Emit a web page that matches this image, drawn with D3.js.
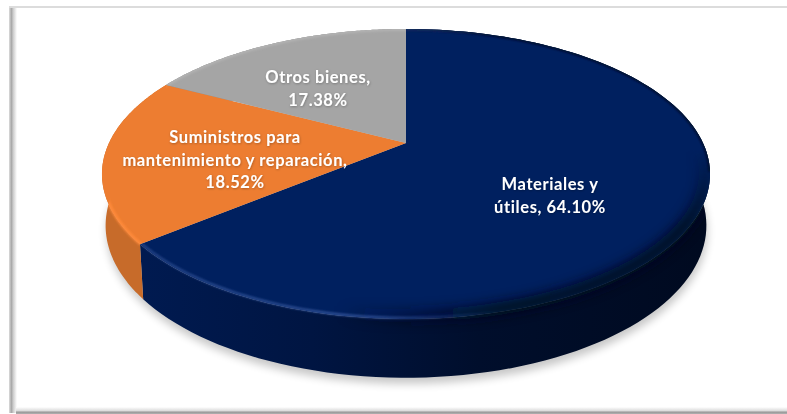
<!DOCTYPE html>
<html><head><meta charset="utf-8">
<script src="https://cdn.jsdelivr.net/npm/d3@7"></script>
<style>html,body{margin:0;padding:0;background:#fff}svg{display:block}text{font-family:Lato,"Open Sans",sans-serif;font-weight:700;font-size:16.5px;letter-spacing:.6px;fill:#fff;text-anchor:middle}</style>
</head><body><svg id="c" width="787" height="414"></svg>
<script>
const categories=["Materiales y útiles","Suministros para mantenimiento y reparación","Otros bienes"];
const values=[64.10,18.52,17.38];
const labels=[["Materiales y","útiles, 64.10%"],["Suministros para","mantenimiento y reparación,","18.52%"],["Otros bienes,","17.38%"]];
const colors=["#00205f","#ed7d31","#a5a5a5"];
const sideColors=["#001a4e","#c76b2a","#8a8a8a"];
const labelPos=[[550,190],[235,143],[318,83]];

const svg=d3.select("#c");
const defs=svg.append("defs");
const W=787,H=414;
// perspective disc
const cx=406,apexY=143,R=297,k=0.2138,A=138.4;
function proj(a,rad,d){
  const x=Math.sin(a)*rad, z=-Math.cos(a)*rad, s=1/(1-k*z);
  return [cx+R*x*s*(1-0.012*d), apexY+A*z*s+(55+(s-1.156)*32)*d];
}
const line=d3.line();
const arcPts=(a0,a1,rad,d)=>d3.range(0,121).map(i=>proj(a0+(a1-a0)*i/120,rad,d));
const arcs=d3.pie().sort(null)(values);

function blur(id,sd){defs.append("filter").attr("id",id).attr("x","-20%").attr("y","-20%").attr("width","140%").attr("height","140%").append("feGaussianBlur").attr("stdDeviation",sd);}
blur("b4",4);blur("b1",1.1);blur("b5",5.5);
const ts=defs.append("filter").attr("id","ts").attr("x","-10%").attr("y","-20%").attr("width","120%").attr("height","140%");
ts.append("feDropShadow").attr("dx",0.5).attr("dy",0.8).attr("stdDeviation",0.8).attr("flood-color","#000").attr("flood-opacity",0.3);
function grad(id,attrs,stops){const g=defs.append("linearGradient").attr("id",id);Object.entries(attrs).forEach(([a,v])=>g.attr(a,v));stops.forEach(s=>g.append("stop").attr("offset",s[0]).attr("stop-color",s[1]).attr("stop-opacity",s[2]===undefined?1:s[2]));}

// frame
grad("fl",{},[[0,"#dddddd"],[0.3,"#a8a8a8"],[0.55,"#cfcfcf"],[1,"#ffffff"]]);
grad("fb",{x1:0,x2:0,y1:0,y2:1},[[0,"#ffffff"],[0.5,"#dedede"],[0.75,"#9a9a9a"],[1,"#b0b0b0"]]);
svg.append("rect").attr("x",9).attr("y",7).attr("width",8).attr("height",406).attr("fill","url(#fl)");
svg.append("rect").attr("x",16).attr("y",407).attr("width",771).attr("height",7).attr("fill","url(#fb)");
svg.append("rect").attr("x",9).attr("y",6).attr("width",778).attr("height",2).attr("fill","#dcdcdc");

// shadow
svg.append("path").attr("d",line(arcPts(0,2*Math.PI,1,1))+"Z").attr("transform","translate(1,6)").attr("fill","#000").attr("opacity",0.22).attr("filter","url(#b4)");

// side walls, then faces on top
grad("side0",{gradientUnits:"userSpaceOnUse",x1:145,x2:700,y1:0,y2:0},[[0,"#001a50"],[0.3,"#001542"],[0.6,"#000e2c"],[1,"#000a20"]]);
const sideFill=["url(#side0)",sideColors[1],sideColors[2]];
const faceD=arcs.map(d=>line([proj(0,0,0)].concat(arcPts(d.startAngle,d.endAngle,1,0)))+"Z");
const sideD=arcs.map(d=>line(arcPts(d.startAngle,d.endAngle,1,0).concat(arcPts(d.startAngle,d.endAngle,1,1).reverse()))+"Z");
arcs.forEach((d,i)=>{svg.append("path").attr("d",sideD[i]).attr("fill",sideFill[i]);});
arcs.forEach((d,i)=>{
  svg.append("path").attr("d",faceD[i]).attr("fill",colors[i]);
  const clip=defs.append("clipPath").attr("id","clip"+i);
  if(i<2) clip.append("path").attr("d",sideD[i]);
  clip.append("path").attr("d",faceD[i]);
});

// bevels
grad("dark0",{gradientUnits:"userSpaceOnUse",x1:340,x2:600,y1:0,y2:0},[[0,"#000a20",0],[0.6,"#000a20",0.9],[1,"#000a20",1]]);
grad("hi0",{gradientUnits:"userSpaceOnUse",x1:145,x2:500,y1:0,y2:0},[[0,"#2f4f94",0.8],[0.6,"#34559c",1],[1,"#2f4f94",0]]);
grad("my",{gradientUnits:"userSpaceOnUse",x1:0,x2:0,y1:150,y2:225},[[0,"#000"],[1,"#fff"]]);
defs.append("mask").attr("id","mk").attr("maskUnits","userSpaceOnUse").attr("x",0).attr("y",0).attr("width",W).attr("height",H)
  .append("rect").attr("width",W).attr("height",H).attr("fill","url(#my)");
const g0=svg.append("g").attr("clip-path","url(#clip0)");
const a0=arcs[0];
g0.append("path").attr("d",line(arcPts(a0.startAngle,Math.PI/2+0.2,1,0))).attr("fill","none")
  .attr("stroke","#000d2c").attr("stroke-width",3).attr("filter","url(#b1)");
g0.append("g").attr("mask","url(#mk)").append("path").attr("d",line(arcPts(a0.startAngle,a0.endAngle,0.985,0))).attr("fill","none")
  .attr("stroke","url(#dark0)").attr("stroke-width",13).attr("filter","url(#b5)");
g0.append("path").attr("d",line(arcPts(a0.startAngle,a0.endAngle,0.995,0))).attr("fill","none")
  .attr("stroke","url(#hi0)").attr("stroke-width",2.2).attr("filter","url(#b1)");
[1,2].forEach(i=>{
  const d=arcs[i];
  svg.append("g").attr("clip-path","url(#clip"+i+")").append("path").attr("d",line(arcPts(d.startAngle,d.endAngle,0.998,0))).attr("fill","none")
   .attr("stroke",i==1?"#ff8a3a":"#b4b4b4").attr("stroke-width",3).attr("filter","url(#b1)");
});

// labels
labels.forEach((ls,i)=>{
  const t=svg.append("text").attr("x",labelPos[i][0]).attr("y",labelPos[i][1]).attr("filter","url(#ts)");
  ls.forEach((s,j)=>t.append("tspan").attr("x",labelPos[i][0]).attr("dy",j?(i==1?22.5:23):0).text(s));
});
</script></body></html>
